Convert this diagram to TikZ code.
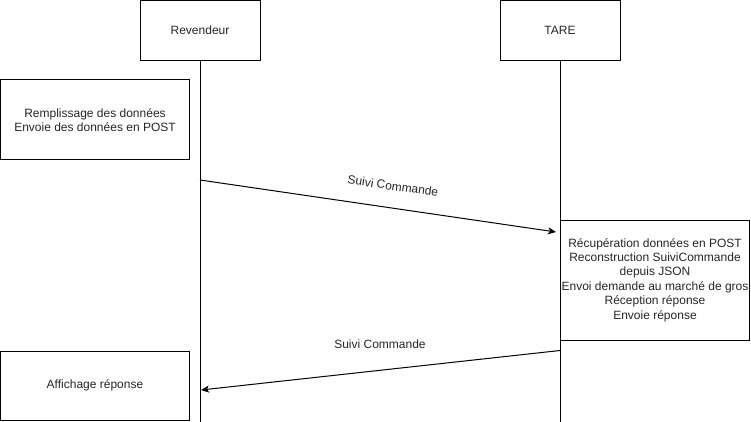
\documentclass[tikz,border=0pt]{standalone}
\usepackage{fontspec}
\setmainfont{Liberation Sans}
\usetikzlibrary{arrows.meta}
\begin{document}
\begin{tikzpicture}[x=1pt,y=-1pt,
  box/.style={draw=black,line width=1pt,rectangle,inner sep=0pt,align=center,
    font=\fontsize{12}{14.4}\selectfont,text=black!85},
  msg/.style={draw=black,line width=1pt,-{Stealth[length=8pt,width=7pt,inset=2pt]}},
  lbl/.style={font=\fontsize{12}{14.4}\selectfont,text=black!85,inner sep=0pt},
  life/.style={draw=black,line width=1pt}]
\useasboundingbox (0,0) rectangle (751,422);
% participants
\node[box,minimum width=120pt,minimum height=60pt] (rev) at (200,30.5) {Revendeur};
\node[box,minimum width=120pt,minimum height=60pt] (tare) at (560,30.5) {TARE};
\coordinate (revend) at (200,422);
\coordinate (tareend) at (560,422);
\draw[life] (rev.south) -- (revend);
\draw[life] (tare.south) -- (tareend);
% activity boxes
\node[box,minimum width=189pt,minimum height=80pt] (fill) at (95,120) {Remplissage des données\\Envoie des données en POST};
\node[box,minimum width=189pt,minimum height=120pt] (proc) at (655,280) {Récupération données en POST\\Reconstruction SuiviCommande\\depuis JSON\\Envoi demande au marché de gros\\Réception réponse\\Envoie réponse};
\node[box,minimum width=189pt,minimum height=69pt] (aff) at (95,385.5) {Affichage réponse};
% messages
\coordinate (m1s) at (200,180);
\coordinate (m1e) at (556,232);
\coordinate (m2s) at (560,350.5);
\coordinate (m2e) at (201,390);
\draw[msg] (m1s) -- (m1e);
\draw[msg] (m2s) -- (m2e);
\node[lbl,rotate=-8.3] (l1) at (393,186) {Suivi Commande};
\node[lbl] (l2) at (380,344) {Suivi Commande};
\end{tikzpicture}
\end{document}
